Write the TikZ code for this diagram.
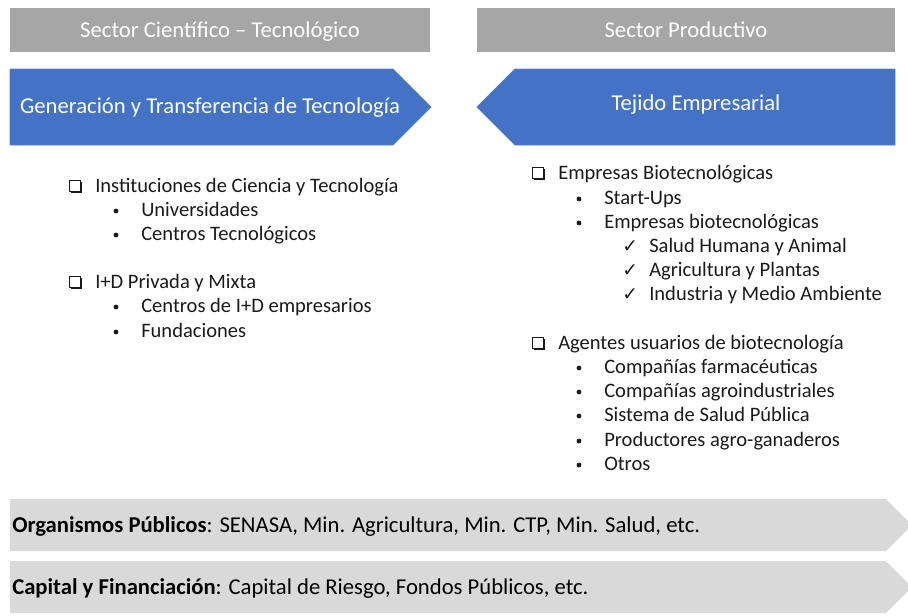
\documentclass[tikz,border=0pt]{standalone}
\usepackage{fontspec}
\setmainfont{Carlito}
\newfontfamily\symfont{DejaVu Sans}
\usetikzlibrary{calc}
\definecolor{hdrgrey}{HTML}{A6A6A6}
\definecolor{bandgrey}{HTML}{D9D9D9}
\definecolor{arrowblue}{HTML}{4472C4}
\definecolor{arrowedge}{HTML}{5A82CB}
\definecolor{txt}{HTML}{1A1A1A}
\tikzset{
  hdr/.style={fill=hdrgrey, draw=none},
  hdrtext/.style={anchor=base, text=white, font=\fontsize{17pt}{20pt}\selectfont, inner sep=0pt},
  bluearrow/.style={fill=arrowblue, draw=arrowedge, line width=0.6pt},
  bluetext/.style={anchor=base, text=white, font=\fontsize{17pt}{20pt}\selectfont, inner sep=0pt},
  item/.style={anchor=base west, text=txt, font=\fontsize{15.4pt}{18pt}\selectfont, inner sep=0pt},
  bul/.style={circle, fill=txt, draw=none, minimum size=3.6pt, inner sep=0pt},
  chk/.style={anchor=base west, text=txt, font=\symfont\fontsize{14pt}{16pt}\selectfont, inner sep=0pt},
  band/.style={fill=bandgrey, draw=none},
  bandtext/.style={anchor=base west, text=black, font=\fontsize{17pt}{20pt}\selectfont, inner sep=0pt},
  cbox/.style={draw=txt, line width=0.9pt, minimum size=8pt, inner sep=0pt, fill=white},
}
\newcommand{\cboxat}[2]{%
  \fill[txt] ($(#1)+(2,2)$) rectangle ($(#1)+(13,13)$);
  \node[cbox, anchor=north west] (#2) at (#1) {};
}
\begin{document}
\begin{tikzpicture}[x=0.75pt,y=-0.75pt]
\useasboundingbox (0,0) rectangle (908,615);
\clip (0,0) rectangle (908,615);

% headers
\fill[hdr] (10,8) rectangle (430,52);
\node[hdrtext] (h1) at (220,37) {Sector Científico – Tecnológico};
\fill[hdr] (477,8) rectangle (895,52);
\node[hdrtext] (h2) at (686,37) {Sector Productivo};

% blue arrows
\draw[bluearrow] (10,69) -- (393,69) -- (431,107) -- (393,145) -- (10,145) -- cycle;
\node[bluetext] (a1) at (210,113) {Generación y Transferencia de Tecnología};
\draw[bluearrow] (895,69) -- (515,69) -- (477,107) -- (515,145) -- (895,145) -- cycle;
\node[bluetext] (a2) at (696,110) {Tejido Empresarial};

% left list
\coordinate (c1) at (69,180);
\cboxat{c1}{cb1}
\node[item] (l1) at (95,192) {Instituciones de Ciencia y Tecnología};
\node[bul] (b1) at (116,211) {};
\node[item] (l2) at (141,216) {Universidades};
\node[bul] (b2) at (116,235) {};
\node[item] (l3) at (141,240) {Centros Tecnológicos};
\coordinate (c2) at (69,276);
\cboxat{c2}{cb2}
\node[item] (l4) at (95,288) {I+D Privada y Mixta};
\node[bul] (b3) at (116,307) {};
\node[item] (l5) at (141,312) {Centros de I+D empresarios};
\node[bul] (b4) at (116,332) {};
\node[item] (l6) at (141,337) {Fundaciones};

% right list
\coordinate (c3) at (532,167);
\cboxat{c3}{cb3}
\node[item] (r1) at (558,179) {Empresas Biotecnológicas};
\node[bul] (rb1) at (579,199) {};
\node[item] (r2) at (604,204) {Start-Ups};
\node[bul] (rb2) at (579,223) {};
\node[item] (r3) at (604,228) {Empresas biotecnológicas};
\node[chk] (k1) at (622,252) {✓};
\node[item] (r4) at (649,252) {Salud Humana y Animal};
\node[chk] (k2) at (622,276) {✓};
\node[item] (r5) at (649,276) {Agricultura y Plantas};
\node[chk] (k3) at (622,300) {✓};
\node[item] (r6) at (649,300) {Industria y Medio Ambiente};
\coordinate (c4) at (532,337);
\cboxat{c4}{cb4}
\node[item] (r7) at (558,349) {Agentes usuarios de biotecnología};
\node[bul] (rb3) at (579,368) {};
\node[item] (r8) at (604,373) {Compañías farmacéuticas};
\node[bul] (rb4) at (579,392) {};
\node[item] (r9) at (604,397) {Compañías agroindustriales};
\node[bul] (rb5) at (579,416) {};
\node[item] (r10) at (604,421) {Sistema de Salud Pública};
\node[bul] (rb6) at (579,441) {};
\node[item] (r11) at (604,446) {Productores agro-ganaderos};
\node[bul] (rb7) at (579,465) {};
\node[item] (r12) at (604,470) {Otros};

% bottom bands
\fill[band] (10,499) -- (886,499) -- (912,525) -- (886,551) -- (10,551) -- cycle;
\node[bandtext] (t1) at (12,532) {\textbf{Organismos Públicos}: SENASA, Min. Agricultura, Min. CTP, Min. Salud, etc.};
\fill[band] (10,561) -- (886,561) -- (912,587) -- (886,613) -- (10,613) -- cycle;
\node[bandtext] (t2) at (12,594) {\textbf{Capital y Financiación}: Capital de Riesgo, Fondos Públicos, etc.};
\end{tikzpicture}
\end{document}
